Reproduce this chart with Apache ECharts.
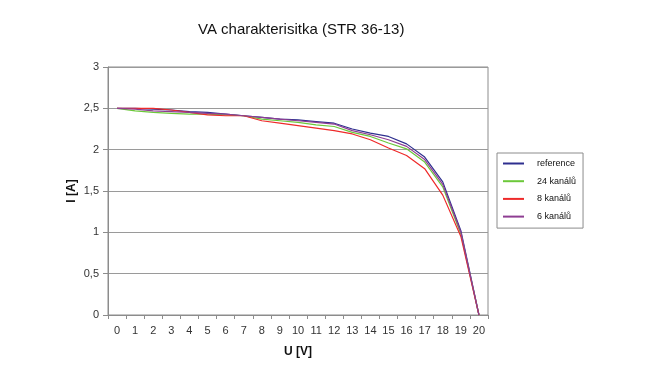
<!DOCTYPE html>
<html>
<head>
<meta charset="utf-8">
<script src="https://cdn.jsdelivr.net/npm/echarts@6/dist/echarts.min.js"></script>
<style>html,body{margin:0;padding:0;background:#fff}#c{width:650px;height:379px}</style>
</head>
<body>
<div id="c"></div>
<script>
var categories = ['0','1','2','3','4','5','6','7','8','9','10','11','12','13','14','15','16','17','18','19','20'];
var reference = [2.50,2.50,2.49,2.48,2.46,2.45,2.43,2.41,2.39,2.37,2.36,2.34,2.32,2.25,2.20,2.16,2.07,1.91,1.61,1.02,0];
var k24 = [2.50,2.47,2.45,2.44,2.43,2.43,2.42,2.41,2.37,2.35,2.33,2.30,2.28,2.21,2.16,2.08,2.01,1.85,1.55,0.98,0];
var k8 = [2.50,2.50,2.50,2.48,2.45,2.42,2.41,2.41,2.35,2.32,2.29,2.26,2.23,2.19,2.12,2.02,1.93,1.77,1.45,0.95,0];
var k6 = [2.50,2.49,2.47,2.46,2.45,2.44,2.43,2.41,2.39,2.37,2.35,2.33,2.31,2.23,2.18,2.12,2.04,1.88,1.58,1.00,0];
var yTicks = [0,0.5,1,1.5,2,2.5,3];

var font = 'Liberation Sans, Arial, sans-serif';
function mk(name, data, color) {
  return {name: name, type: 'line', data: data, symbol: 'none', smooth: false,
    lineStyle: {color: color, width: 1.2}, itemStyle: {color: color}};
}
var chart = echarts.init(document.getElementById('c'), null, {renderer: 'canvas'});
chart.setOption({
  animation: false,
  backgroundColor: '#fff',
  title: {text: 'VA charakterisitka (STR 36-13)', left: 198, top: 22, padding: 0,
    textStyle: {fontFamily: font, fontSize: 15, fontWeight: 'normal', color: '#111'}},
  grid: {left: 108, right: 162, top: 67, bottom: 64, show: true, borderColor: '#8c8c8c', borderWidth: 1, backgroundColor: '#fff'},
  legend: {orient: 'vertical', left: 497, top: 153, padding: [6, 7, 7, 5], itemWidth: 21, itemHeight: 10, itemGap: 8.7,
    borderColor: '#8c8c8c', borderWidth: 1, backgroundColor: '#fff',
    itemStyle: {color: 'transparent', borderWidth: 0, opacity: 0},
    textStyle: {fontFamily: font, fontSize: 9, color: '#111', padding: [0, 0, 0, 8]},
    data: ['reference', '24 kanálů', '8 kanálů', '6 kanálů']},
  xAxis: {type: 'category', data: categories, boundaryGap: true,
    axisLine: {lineStyle: {color: '#8c8c8c'}},
    axisTick: {show: true, length: 4, lineStyle: {color: '#8c8c8c'}},
    axisLabel: {color: '#333', fontFamily: font, fontSize: 11, margin: 10},
    splitLine: {show: false},
    name: 'U [V]', nameLocation: 'middle', nameGap: 31,
    nameTextStyle: {fontFamily: font, fontSize: 12, fontWeight: 'bold', color: '#111'}},
  yAxis: {type: 'value', min: 0, max: 3, interval: 0.5,
    axisLine: {show: true, lineStyle: {color: '#8c8c8c'}},
    axisTick: {show: true, length: 5, lineStyle: {color: '#8c8c8c'}},
    axisLabel: {color: '#333', fontFamily: font, fontSize: 11, margin: 9,
      formatter: function (v) { return String(v).replace('.', ','); }},
    splitLine: {show: true, lineStyle: {color: '#9a9a9a', width: 1}},
    name: 'I [A]', nameLocation: 'middle', nameGap: 30, nameRotate: 90, nameMoveOverlap: false,
    nameTextStyle: {fontFamily: font, fontSize: 12, fontWeight: 'bold', color: '#111'}},
  series: [
    mk('reference', reference, '#2e2f8f'),
    mk('24 kanálů', k24, '#6cc83a'),
    mk('8 kanálů', k8, '#ee2a2a'),
    mk('6 kanálů', k6, '#8e3d92')
  ]
});
</script>
</body>
</html>
